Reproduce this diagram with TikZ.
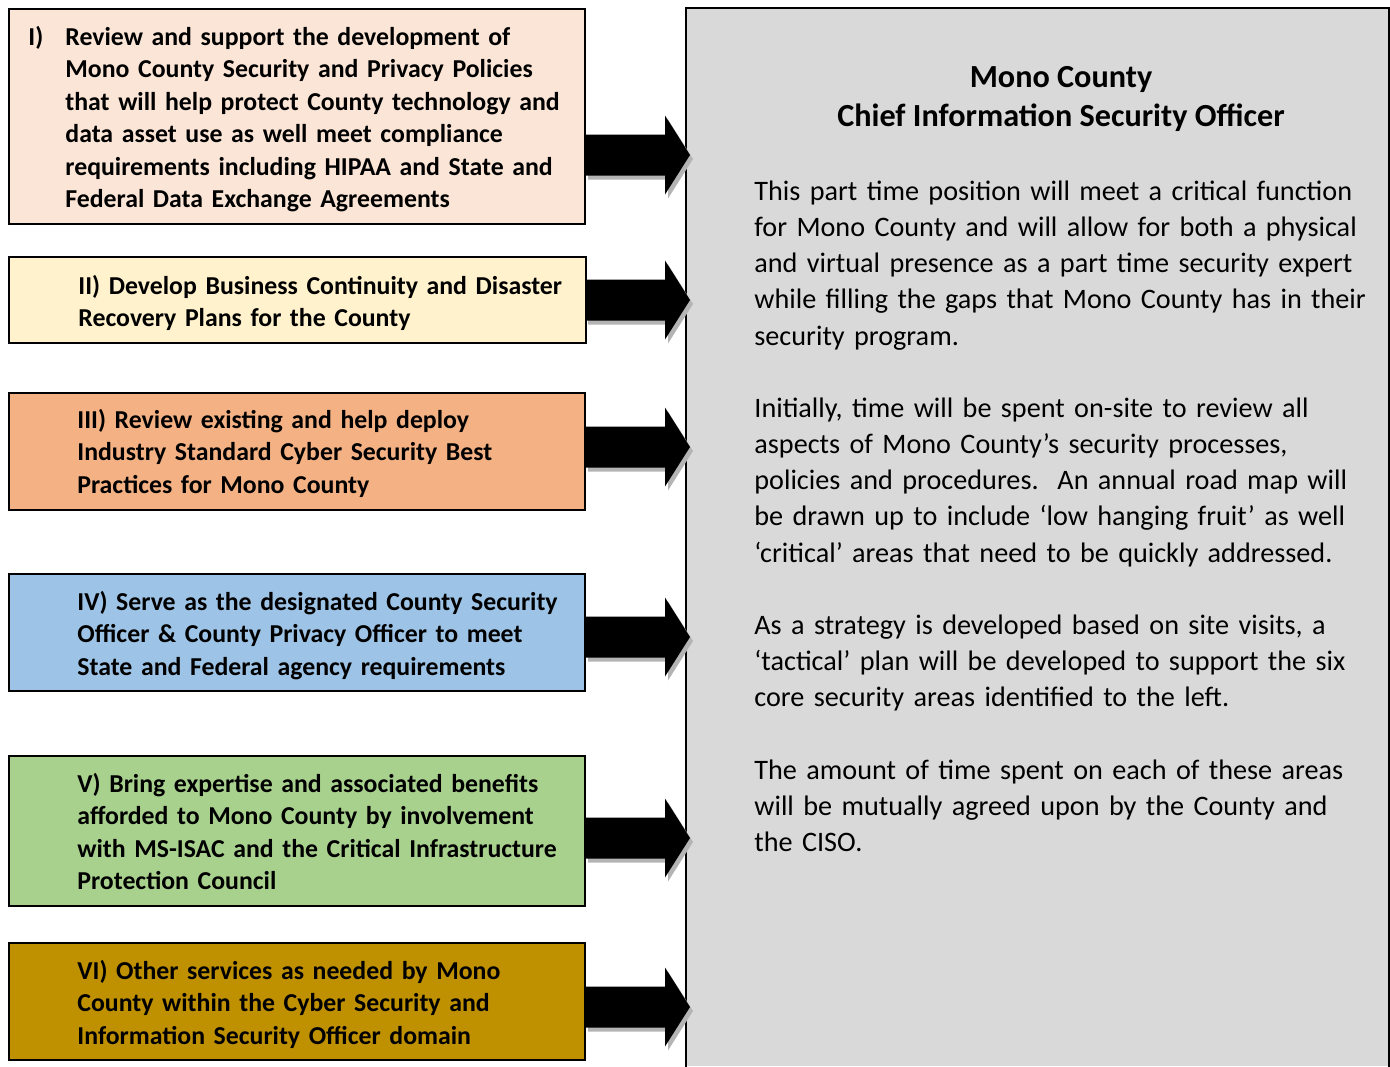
\documentclass[tikz,border=0pt]{standalone}
\usepackage{fontspec}
\setmainfont{Carlito}
\definecolor{peach}{HTML}{FBE5D6}
\definecolor{cream}{HTML}{FFF2CC}
\definecolor{apricot}{HTML}{F4B183}
\definecolor{skyblue}{HTML}{9DC3E6}
\definecolor{leafgreen}{HTML}{A9D18E}
\definecolor{gold}{HTML}{BF9000}
\definecolor{panelgray}{HTML}{D9D9D9}
\definecolor{shadowgray}{HTML}{B4B4B4}
\newcommand\boxfont{\fontsize{12.9pt}{16.2pt}\selectfont\bfseries}
\newcommand\titlefont{\fontsize{16.1pt}{19.5pt}\selectfont\bfseries}
\newcommand\bodyfont{\fontsize{14.1pt}{18.15pt}\selectfont}
\begin{document}
\begin{tikzpicture}[x=0.5pt,y=-0.5pt,
  itembox/.style={draw=black,line width=0.75pt,anchor=north west,inner sep=0pt,minimum width=288pt},
  itemtext/.style={anchor=base west,inner sep=0pt,align=left,text width=270pt,font=\boxfont},
  bodytext/.style={anchor=base west,inner sep=0pt,align=left,text width=330pt,font=\bodyfont},
  blockarrow/.pic={
    \fill[shadowgray] (3,-16.5) -- (83,-16.5) -- (83,-35.5) -- (108,4) -- (83,43.5) -- (83,24.5) -- (3,24.5) -- cycle;
    \fill[black] (0,-20.5) -- (80,-20.5) -- (80,-39.5) -- (105,0) -- (80,39.5) -- (80,20.5) -- (0,20.5) -- cycle;
  }]
\fill[white] (0,0) rectangle (1390,1066);
\useasboundingbox (0,0) rectangle (1390,1066);

% officer panel, open at the bottom
\node[anchor=north west,fill=panelgray,inner sep=0pt,minimum width=351pt,minimum height=529pt] (panel) at (686,8) {};
\draw[line width=1pt] (panel.south west) -- (panel.north west) -- (panel.north east) -- (panel.south east);

% the six service areas
\node[itembox,fill=peach,minimum height=107.5pt] (b1) at (8,8) {};
\node[itembox,fill=cream,minimum height=43pt,minimum width=288.5pt] (b2) at (8,256) {};
\node[itembox,fill=apricot,minimum height=58.5pt] (b3) at (8,392) {};
\node[itembox,fill=skyblue,minimum height=58.5pt] (b4) at (8,573) {};
\node[itembox,fill=leafgreen,minimum height=75pt] (b5) at (8,755) {};
\node[itembox,fill=gold,minimum height=58.5pt] (b6) at (8,942) {};

% block arrows into the panel
\pic at (585,155) {blockarrow};
\pic at (585,300) {blockarrow};
\pic at (585,447) {blockarrow};
\pic at (585,637) {blockarrow};
\pic at (585,838) {blockarrow};
\pic at (585,1007) {blockarrow};

% box texts
\node[itemtext,text width=20pt] (n1) at (28,45.5) {I)};
\node[itemtext] (t1) at (65,45.5) {Review and support the development of\\
Mono County Security and Privacy Policies\\
that will help protect County technology and\\
data asset use as well meet compliance\\
requirements including HIPAA and State and\\
Federal Data Exchange Agreements};
\node[itemtext] (t2) at (78,294.5) {II) Develop Business Continuity and Disaster\\
Recovery Plans for the County};
\node[itemtext] (t3) at (77,428.5) {III) Review existing and help deploy\\
Industry Standard Cyber Security Best\\
Practices for Mono County};
\node[itemtext] (t4) at (77,610.5) {IV) Serve as the designated County Security\\
Officer \& County Privacy Officer to meet\\
State and Federal agency requirements};
\node[itemtext] (t5) at (77,792.5) {V) Bring expertise and associated benefits\\
afforded to Mono County by involvement\\
with MS-ISAC and the Critical Infrastructure\\
Protection Council};
\node[itemtext] (t6) at (77,979.5) {VI) Other services as needed by Mono\\
County within the Cyber Security and\\
Information Security Officer domain};

% panel texts
\node[anchor=base,inner sep=0pt,align=center,font=\titlefont] (title) at (1061,126) {Mono County\\Chief Information Security Officer};
\node[bodytext] (p1) at (754,200) {This part time position will meet a critical function\\
for Mono County and will allow for both a physical\\
and virtual presence as a part time security expert\\
while filling the gaps that Mono County has in their\\
security program.};
\node[bodytext] (p2) at (754,417) {Initially, time will be spent on-site to review all\\
aspects of Mono County’s security processes,\\
policies and procedures.\ \ An annual road map will\\
be drawn up to include ‘low hanging fruit’ as well\\
‘critical’ areas that need to be quickly addressed.};
\node[bodytext] (p3) at (754,634) {As a strategy is developed based on site visits, a\\
‘tactical’ plan will be developed to support the six\\
core security areas identified to the left.};
\node[bodytext] (p4) at (754,779) {The amount of time spent on each of these areas\\
will be mutually agreed upon by the County and\\
the CISO.};
\end{tikzpicture}
\end{document}
